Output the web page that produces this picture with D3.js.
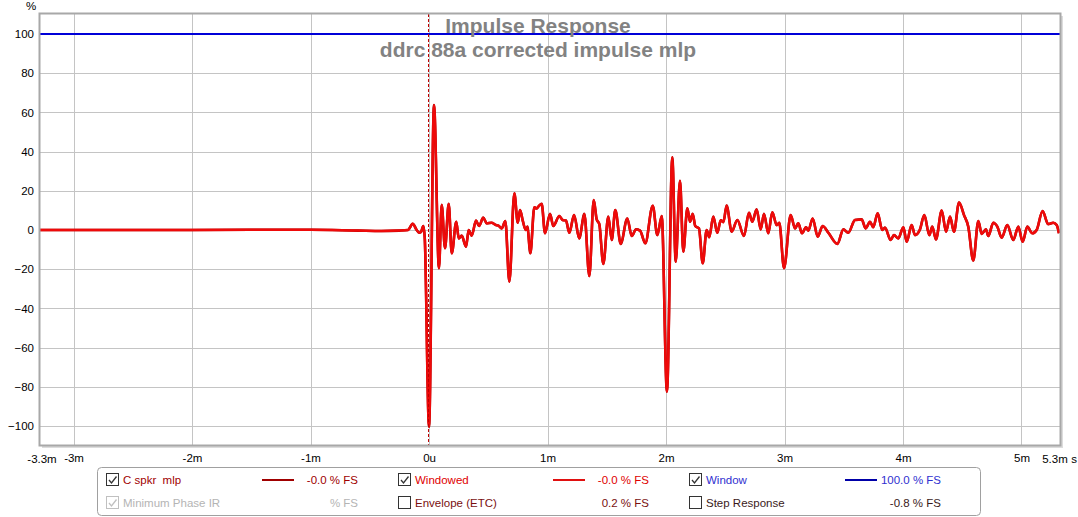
<!DOCTYPE html>
<html><head><meta charset="utf-8">
<script src="https://cdn.jsdelivr.net/npm/d3@7"></script>
<style>
html,body{margin:0;padding:0;background:#fff;}
svg{display:block;font-family:"Liberation Sans",Arial,sans-serif;}
text{white-space:pre;}
</style></head>
<body><svg id="c" width="1078" height="517"></svg>
<script>
// ---- data ----
const title = "Impulse Response";
const subtitle = "ddrc 88a corrected impulse mlp";
const yTicks = [100, 80, 60, 40, 20, 0, -20, -40, -60, -80, -100];
const xTicks = [-3, -2, -1, 0, 1, 2, 3, 4, 5];
const xTickLabels = ["-3m", "-2m", "-1m", "0u", "1m", "2m", "3m", "4m", "5m"];
const xDomain = [-3.283, 5.325];
const xEndLabels = ["-3.3m", "5.3m"];
const windowLevel = 100;
// time in ms
const timeMs = [-3.283,-2.5,-2.0,-1.5,-1.0,-0.6,-0.4,-0.25,-0.177,-0.138,-0.104,-0.082,-0.068,-0.048,-0.036,0.0,0.042,0.084,0.107,0.135,0.166,0.192,0.230,0.251,0.276,0.312,0.335,0.360,0.397,0.422,0.458,0.487,0.529,0.565,0.585,0.614,0.644,0.678,0.720,0.749,0.768,0.791,0.816,0.830,0.855,0.889,0.909,0.926,0.951,0.979,1.021,1.049,1.100,1.128,1.156,1.184,1.224,1.268,1.311,1.353,1.390,1.415,1.437,1.471,1.513,1.542,1.572,1.618,1.673,1.711,1.747,1.781,1.825,1.888,1.927,1.964,2.008,2.053,2.082,2.118,2.146,2.180,2.203,2.225,2.247,2.278,2.310,2.343,2.365,2.399,2.433,2.462,2.484,2.512,2.554,2.602,2.658,2.700,2.728,2.765,2.799,2.827,2.863,2.897,2.934,2.956,2.996,3.052,3.089,3.116,3.148,3.181,3.201,3.238,3.280,3.322,3.370,3.446,3.497,3.538,3.595,3.651,3.685,3.722,3.749,3.786,3.825,3.848,3.896,3.924,3.960,4.003,4.031,4.073,4.101,4.143,4.180,4.222,4.247,4.278,4.327,4.363,4.397,4.430,4.473,4.515,4.551,4.593,4.636,4.664,4.700,4.720,4.762,4.796,4.833,4.880,4.931,4.973,5.010,5.049,5.091,5.128,5.178,5.225,5.268,5.297,5.316];
const impulsePct = [0,0,0,0.1,0.1,-0.3,-0.5,-0.3,0,3.2,0,-1.4,-1.0,2.0,-4,-100.4,63.8,-19.5,12.8,-9.3,13.3,-11.9,4.2,-4.3,-2.9,-8.5,0,-2.9,4.8,2.0,6.3,3.4,3.7,2.5,2.2,0.8,4.6,-26.4,18.7,3.7,10.2,4.8,0,1.7,-11.9,11.6,11.0,12.2,13.3,-1.7,8.2,2.0,7.1,5.1,4.8,-1.4,7.6,-4.3,8.2,-23.5,15.3,5.4,3.0,-17.3,6.8,-5.1,10.2,-7.1,5.9,-3.1,0.3,-0.3,-6.8,12.4,-2.6,7.1,-82.5,37.1,-16.2,25.1,-11.1,11.1,4.2,8.2,2.0,0.8,-17.0,0,-3.7,6.8,-1.4,5.0,4.0,12.5,-0.9,5.1,-3.1,8.8,4.2,10.5,0.3,8.2,-1.7,9.0,2.5,3.7,-19.5,7.6,0.8,3.4,-1.7,1.4,-0.3,5.9,-3.4,2.0,-1.4,-7.1,0.3,-1.4,5.1,5.4,0.8,4.2,1.4,8.5,0,1.2,-5.1,-2.6,-4.3,1.4,-6.0,2.5,-2.6,0.3,7.6,-2.6,1.7,-4.8,9.9,-0.9,6.8,-0.9,14.0,7.6,1.7,-15.6,4.6,-2.0,0.3,-3.1,3.7,1.7,-3.9,2.5,-5.1,1.7,-6.0,1.7,-1.7,0,9.7,3.0,3.7,2.5,-1.7];
const legendRow1 = [
  {label:"C spkr  mlp", value:"-0.0 % FS", checked:true},
  {label:"Windowed", value:"-0.0 % FS", checked:true},
  {label:"Window", value:"100.0 % FS", checked:true}
];
const legendRow2 = [
  {label:"Minimum Phase IR", value:"% FS", checked:true},
  {label:"Envelope (ETC)", value:"0.2 % FS", checked:false},
  {label:"Step Response", value:"-0.8 % FS", checked:false}
];

// ---- layout & styles ----
const L = 40, R = 1060, T = 14, B = 445;
const svg = d3.select("#c");
const x = d3.scaleLinear().domain(xDomain).range([L, R]);
const y = d3.scaleLinear().domain([-109.7, 110.2]).range([B, T]);
const data = timeMs.map((t, i) => ({t, v: impulsePct[i]}));

// grid
const g = svg.append("g");
g.selectAll("line.h").data(yTicks).join("line")
  .attr("x1", L).attr("x2", R).attr("y1", d => Math.round(y(d)) + 0.5).attr("y2", d => Math.round(y(d)) + 0.5)
  .attr("stroke", "#c4c4c4").attr("stroke-width", 1);
g.selectAll("line.v").data(xTicks).join("line")
  .attr("y1", T).attr("y2", B).attr("x1", d => Math.round(x(d)) + 0.5).attr("x2", d => Math.round(x(d)) + 0.5)
  .attr("stroke", "#c4c4c4").attr("stroke-width", 1);

// y axis labels
const yAxis = d3.axisLeft(y).tickValues(yTicks).tickSize(0).tickPadding(6);
const ya = svg.append("g").attr("transform", `translate(${L},0)`).call(yAxis);
ya.select(".domain").remove();
ya.selectAll("text").attr("font-size", 11.5).attr("fill", "#000").attr("font-family", "Liberation Sans, Arial, sans-serif");
svg.append("text").attr("x", 31).attr("y", 10).attr("text-anchor", "middle").attr("font-size", 11.5).text("%");

// x axis labels
const xAxis = d3.axisBottom(x).tickValues(xTicks).tickFormat((d, i) => xTickLabels[i]).tickSize(0).tickPadding(9);
const xa = svg.append("g").attr("transform", `translate(0,${B})`).call(xAxis);
xa.select(".domain").remove();
xa.selectAll("text").attr("font-size", 11.5).attr("fill", "#000").attr("font-family", "Liberation Sans, Arial, sans-serif");
svg.append("text").attr("x", x(xDomain[0]) + 2).attr("y", 463).attr("text-anchor", "middle").attr("font-size", 11.5).text(xEndLabels[0]);
svg.append("text").attr("x", x(xDomain[1]) - 5).attr("y", 463).attr("text-anchor", "middle").attr("font-size", 11.5).text(xEndLabels[1]);
svg.append("text").attr("x", x(xDomain[1]) + 14).attr("y", 463).attr("text-anchor", "middle").attr("font-size", 11.5).text("s");

// clip
svg.append("clipPath").attr("id", "clip").append("rect").attr("x", L).attr("y", T).attr("width", R - L).attr("height", B - T);
const plot = svg.append("g").attr("clip-path", "url(#clip)");

// window line
plot.append("line").attr("x1", L).attr("x2", R).attr("y1", y(windowLevel)).attr("y2", y(windowLevel))
  .attr("stroke", "#0000d8").attr("stroke-width", 2);

const line = d3.line().x(d => x(d.t)).y(d => y(d.v)).curve(d3.curveMonotoneX);
plot.append("path").datum(data).attr("d", line).attr("fill", "none").attr("stroke", "#a00000").attr("stroke-width", 2.6);
plot.append("path").datum(data).attr("d", line).attr("fill", "none").attr("stroke", "#ee0a0a").attr("stroke-width", 2.5).attr("stroke-linejoin", "round");

// zero dashed line
plot.append("line").attr("x1", Math.round(x(0)) - 0.5).attr("x2", Math.round(x(0)) - 0.5).attr("y1", T).attr("y2", B)
  .attr("stroke", "#c00000").attr("stroke-width", 1).attr("stroke-dasharray", "3,2");

// frame
svg.append("line").attr("x1", R + 2).attr("x2", R + 2).attr("y1", T + 2).attr("y2", B + 3).attr("stroke", "#dcdcdc").attr("stroke-width", 2);
svg.append("line").attr("x1", L + 2).attr("x2", R + 3).attr("y1", B + 2).attr("y2", B + 2).attr("stroke", "#dcdcdc").attr("stroke-width", 2);
svg.append("rect").attr("x", L - 0.5).attr("y", T - 0.5).attr("width", R - L + 1).attr("height", B - T + 1)
  .attr("fill", "none").attr("stroke", "#a8a8a8").attr("stroke-width", 2);

// titles
svg.append("text").attr("x", 538).attr("y", 33).attr("text-anchor", "middle").attr("font-size", 21).attr("font-weight", "bold")
  .attr("fill", "#828282").text(title);
svg.append("text").attr("x", 538).attr("y", 57).attr("text-anchor", "middle").attr("font-size", 21).attr("font-weight", "bold")
  .attr("fill", "#828282").text(subtitle);

// legend
svg.append("rect").attr("x", 97.5).attr("y", 467.5).attr("width", 883).attr("height", 48).attr("rx", 4)
  .attr("fill", "#fff").attr("stroke", "#a0a0a0");
const colX = [106, 398, 689];
const lineX = [262, 553, 845];
const valX = [358, 649, 941];
const rowY = [480, 503];
const row1Colors = [{t:"#a00000", l:"#a00000"}, {t:"#e00000", l:"#e01010"}, {t:"#3030d0", l:"#0000a8"}];
const row2Colors = ["#b4b4b4", "#7a1010", "#3a1a1a"];
function checkbox(gx, cx, cy, checked, col) {
  gx.append("rect").attr("x", cx + 0.5).attr("y", cy - 6.5).attr("width", 12).attr("height", 12)
    .attr("fill", "#fff").attr("stroke", col);
  if (checked) gx.append("path").attr("d", `M${cx+3},${cy} L${cx+5.5},${cy+3} L${cx+10.5},${cy-3.5}`)
    .attr("fill", "none").attr("stroke", col).attr("stroke-width", 1.3);
}
const lg = svg.append("g").attr("font-size", 11.5);
legendRow1.forEach((d, i) => {
  checkbox(lg, colX[i], rowY[0], d.checked, "#333");
  lg.append("text").attr("x", colX[i] + 17).attr("y", rowY[0] + 4).attr("fill", row1Colors[i].t).text(d.label);
  lg.append("line").attr("x1", lineX[i]).attr("x2", lineX[i] + 32).attr("y1", rowY[0]).attr("y2", rowY[0])
    .attr("stroke", row1Colors[i].l).attr("stroke-width", 2);
  lg.append("text").attr("x", valX[i]).attr("y", rowY[0] + 4).attr("text-anchor", "end").attr("fill", row1Colors[i].t).text(d.value);
});
legendRow2.forEach((d, i) => {
  checkbox(lg, colX[i], rowY[1], d.checked, i === 0 ? "#c0c0c0" : "#333");
  lg.append("text").attr("x", colX[i] + 17).attr("y", rowY[1] + 4).attr("fill", row2Colors[i]).text(d.label);
  lg.append("text").attr("x", valX[i]).attr("y", rowY[1] + 4).attr("text-anchor", "end").attr("fill", row2Colors[i]).text(d.value);
});
</script></body></html>
